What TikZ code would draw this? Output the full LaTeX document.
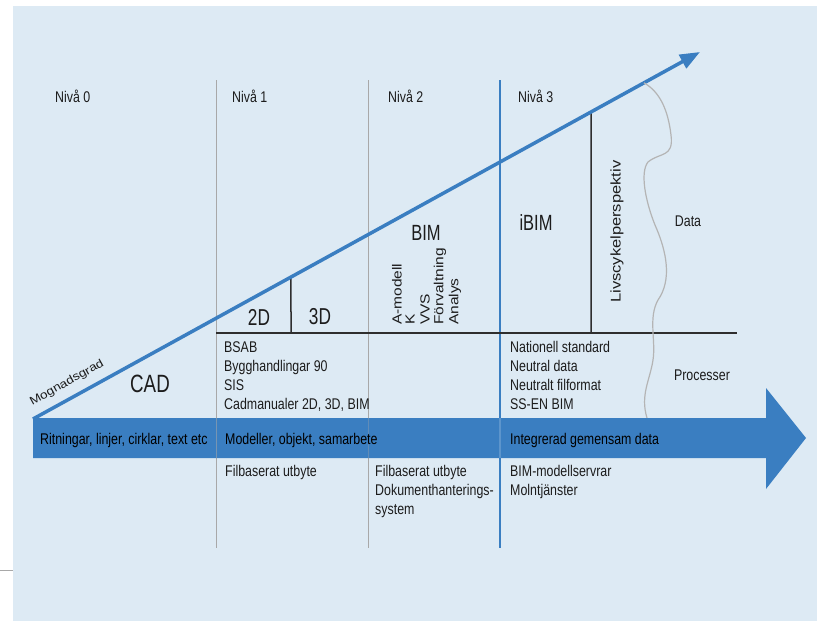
\documentclass[tikz,border=0pt]{standalone}
\usepackage{fontspec}
\usetikzlibrary{arrows.meta,calc}
\newfontfamily\condfont{Liberation Sans}[FakeStretch=0.8]
\newfontfamily\bigfont{Liberation Sans}[FakeStretch=0.75]
\newfontfamily\rotfont{Liberation Sans}
\newcommand{\squatbox}[1]{\scalebox{1}[0.85]{#1}}
\definecolor{bgblue}{HTML}{DDEAF4}
\definecolor{mainblue}{HTML}{3A7EC1}
\definecolor{levelgrey}{HTML}{A8A8A8}
\definecolor{inkgrey}{HTML}{1C1C1C}
\definecolor{divider}{HTML}{2E2E2E}
\definecolor{wavegrey}{HTML}{B4B4B4}
\tikzset{
  txt/.style={inner sep=0pt, text=inkgrey, font=\condfont\fontsize{15.5}{19}\selectfont},
  lefttxt/.style={txt, anchor=base west},
  listtxt/.style={txt, anchor=north west, align=left},
  bigtxt/.style={inner sep=0pt, text=inkgrey, font=\bigfont\fontsize{23}{26}\selectfont},
  rottxt/.style={inner sep=0pt, text=inkgrey, rotate=90, anchor=west,
    font=\rotfont\fontsize{15.5}{19}\selectfont},
  levelline/.style={levelgrey, line width=1pt},
  blueline/.style={mainblue, line width=1.3pt},
  darkline/.style={divider, line width=1.5pt},
}
\begin{document}
\begin{tikzpicture}[x=1pt,y=-1pt]
  \useasboundingbox (0,0) rectangle (817,621);
  % background panel
  \fill[bgblue] (13,6) rectangle (817,621);
  \draw[levelgrey, line width=0.8pt] (0,570) -- (13,570);

  % level columns
  \coordinate (l1t) at (216,80);  \coordinate (l1b) at (216,548);
  \coordinate (l2t) at (368,80);  \coordinate (l2b) at (368,548);
  \coordinate (l3t) at (500,80);  \coordinate (l3b) at (500,548);
  \draw[levelline] (l1t) -- (l1b);
  \draw[levelline] (l2t) -- (l2b);
  \draw[blueline] (l3t) -- (l3b);

  % maturity arrow and the divisions beneath it
  \coordinate (o) at (33,419);
  \coordinate (tip) at (700,52);
  \coordinate (d2) at ($(o)!0.3868!(tip)$);
  \coordinate (d2b) at (291,333);
  \coordinate (dl) at ($(o)!0.8366!(tip)$);
  \coordinate (dlb) at (591,333);
  \coordinate (hl) at (216,333);
  \coordinate (hr) at (737,333);
  \draw[darkline] (hl) -- (hr);
  \draw[darkline] (d2b) -- (d2);
  \draw[darkline] (dlb) -- (dl);
  \draw[mainblue, line width=3.5pt, -{Triangle[length=20pt,width=15pt]}] (o) -- (tip);

  % wavy boundary between data and processes
  \coordinate (ws) at ($(o)!0.9160!(tip)$);
  \coordinate (we) at (647,418);
  \draw[wavegrey, line width=1.2pt] (ws) .. controls (660,92) and (668,110) .. (671,135)
    .. controls (674,158) and (660,152) .. (648,162)
    .. controls (640,172) and (645,200) .. (655,225)
    .. controls (667,252) and (672,280) .. (658,300)
    .. controls (648,318) and (656,340) .. (653,360)
    .. controls (650,380) and (640,395) .. (we);

  % process arrow
  \fill[mainblue] (33,418) -- (766,418) -- (766,388) -- (806,438) -- (766,489)
    -- (766,458) -- (33,458) -- cycle;
  \draw[levelline, opacity=0.55] (216,418) -- (216,458);
  \draw[levelline, opacity=0.35] (368,418) -- (368,458);
  \draw[mainblue!70!white, line width=1.3pt, opacity=0.6] (500,418) -- (500,458);

  % level headings
  \node[lefttxt] (n0) at (55,102) {Nivå 0};
  \node[lefttxt] (n1) at (232,102) {Nivå 1};
  \node[lefttxt] (n2) at (388,102) {Nivå 2};
  \node[lefttxt] (n3) at (518,102) {Nivå 3};

  % stage labels
  \node[bigtxt, font=\bigfont\fontsize{25}{28}\selectfont] (cad) at (150,384) {CAD};
  \node[bigtxt] (d2d) at (259,317) {2D};
  \node[bigtxt] (d3d) at (320,317) {3D};
  \node[bigtxt, font=\bigfont\fontsize{22}{26}\selectfont] (bim) at (426,233) {BIM};
  \node[bigtxt, font=\bigfont\fontsize{22}{26}\selectfont] (ibim) at (536,223) {iBIM};
  \node[inner sep=0pt, text=inkgrey, font=\rotfont\fontsize{13.5}{16}\selectfont,
        rotate=29] (mog) at (67,383) {\squatbox{Mognadsgrad}};

  % disciplines
  \node[rottxt] (am) at (397,325) {\squatbox{A-modell}};
  \node[rottxt] (k) at (410,325) {\squatbox{K}};
  \node[rottxt] (vvs) at (425,325) {\squatbox{VVS}};
  \node[rottxt] (forv) at (440,325) {\squatbox{Förvaltning}};
  \node[rottxt] (ana) at (455,325) {\squatbox{Analys}};
  \node[rottxt, font=\rotfont\fontsize{16.5}{19}\selectfont] (liv) at (617,303) {\squatbox{Livscykelperspektiv}};

  \node[txt] (data) at (688,221) {Data};
  \node[txt] (proc) at (702,375) {Processer};

  % standards
  \node[listtxt] (std1) at (224,341) {BSAB\\Bygghandlingar 90\\SIS\\Cadmanualer 2D, 3D, BIM};
  \node[listtxt] (std3) at (510,341) {Nationell standard\\Neutral data\\Neutralt filformat\\SS-EN BIM};

  % contents of the process arrow
  \node[lefttxt, text=black] (r0) at (40,444) {Ritningar, linjer, cirklar, text etc};
  \node[lefttxt, text=black] (r1) at (225,444) {Modeller, objekt, samarbete};
  \node[lefttxt, text=black] (r3) at (510,444) {Integrerad gemensam data};

  % exchange
  \node[listtxt] (ex1) at (225,465) {Filbaserat utbyte};
  \node[listtxt] (ex2) at (375,465) {Filbaserat utbyte\\Dokumenthanterings-\\system};
  \node[listtxt] (ex3) at (510,465) {BIM-modellservrar\\Molntjänster};
\end{tikzpicture}
\end{document}
